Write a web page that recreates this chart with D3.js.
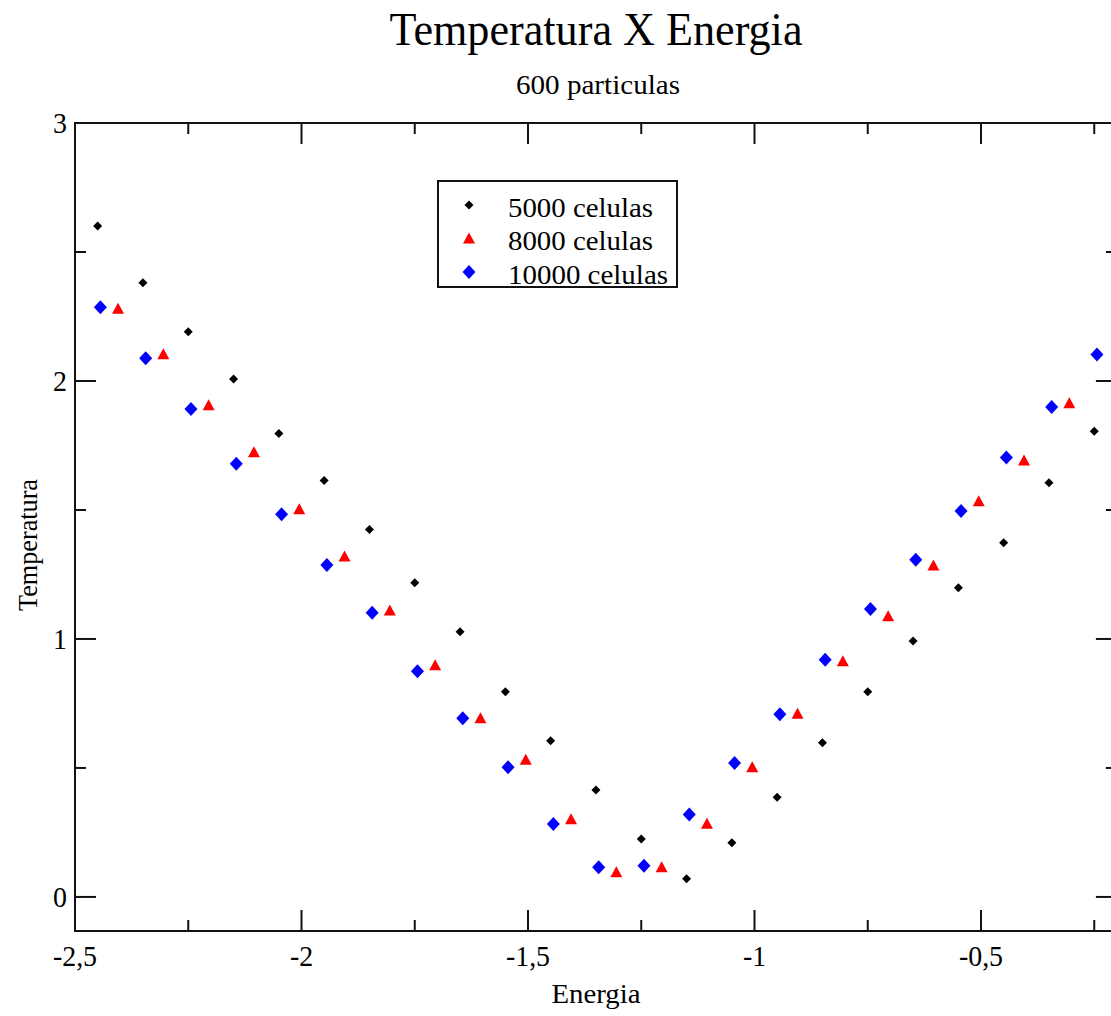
<!DOCTYPE html>
<meta charset="utf-8">
<script src="https://d3js.org/d3.v7.min.js"></script>
<style>
  body { margin: 0; background: #fff; }
  text { font-family: "Liberation Serif", "Times New Roman", serif; fill: #000; }
</style>
<div id="chart"></div>
<script>
// data
const energy5000 = [-2.45, -2.35, -2.25, -2.15, -2.05, -1.95, -1.85, -1.75, -1.65, -1.55, -1.45, -1.35,
  -1.25, -1.15, -1.05, -0.95, -0.85, -0.75, -0.65, -0.55, -0.45, -0.35, -0.25];
const temp5000 = [2.601, 2.381, 2.191, 2.008, 1.796, 1.614, 1.424, 1.218, 1.028, 0.795, 0.605, 0.415,
  0.225, 0.071, 0.210, 0.386, 0.598, 0.795, 0.992, 1.199, 1.373, 1.606, 1.805];

const energy8000 = [-2.405, -2.305, -2.205, -2.105, -2.005, -1.905, -1.805, -1.705, -1.605, -1.505, -1.405,
  -1.305, -1.205, -1.105, -1.005, -0.905, -0.805, -0.705, -0.605, -0.505, -0.405, -0.305];
const temp8000 = [2.282, 2.106, 1.908, 1.726, 1.505, 1.322, 1.112, 0.900, 0.695, 0.534, 0.303,
  0.098, 0.117, 0.286, 0.505, 0.712, 0.916, 1.090, 1.287, 1.536, 1.694, 1.916];

const energy10000 = [-2.444, -2.344, -2.244, -2.144, -2.044, -1.944, -1.844, -1.744, -1.644, -1.544, -1.444, -1.344,
  -1.244, -1.144, -1.044, -0.944, -0.844, -0.744, -0.644, -0.544, -0.444, -0.344, -0.244];
const temp10000 = [2.286, 2.088, 1.891, 1.679, 1.483, 1.287, 1.102, 0.875, 0.693, 0.503, 0.283, 0.115,
  0.121, 0.320, 0.519, 0.708, 0.919, 1.116, 1.307, 1.496, 1.703, 1.899, 2.103];

const seriesNames = ["5000 celulas", "8000 celulas", "10000 celulas"];
const xMajorTicks = [-2.5, -2, -1.5, -1, -0.5];
const xTickLabels = ["-2,5", "-2", "-1,5", "-1", "-0,5"];
const yMajorTicks = [0, 1, 2, 3];
const yTickLabels = ["0", "1", "2", "3"];

const W = 1111, H = 1016;
const x = d3.scaleLinear().domain([-2.5, -0.2]).range([75, 75 + 2.3 * 453]);
const y = d3.scaleLinear().domain([-0.132, 3]).range([931, 123]);

const svg = d3.select("#chart").append("svg")
  .attr("width", W).attr("height", H);

// squeeze text a little, the original font is narrower than Times
function squeeze(sel, k) {
  sel.each(function() {
    const w = this.getComputedTextLength();
    d3.select(this).attr("textLength", w * k).attr("lengthAdjust", "spacingAndGlyphs");
  });
}

// frame
const x0 = x.range()[0], x1 = x.range()[1], y0 = y.range()[0], y1 = y.range()[1];
svg.append("rect")
  .attr("x", x0).attr("y", y1).attr("width", x1 - x0).attr("height", y0 - y1)
  .attr("fill", "none").attr("stroke", "#111").attr("stroke-width", 2);

// ticks (inward, on all four sides)
const xMinor = d3.range(-2.25, -0.2, 0.5);
const yMinor = [0.5, 1.5, 2.5];
const ticks = svg.append("g").attr("stroke", "#111").attr("stroke-width", 2);
xMajorTicks.forEach(v => {
  ticks.append("line").attr("x1", x(v)).attr("x2", x(v)).attr("y1", y0).attr("y2", y0 - 21);
  ticks.append("line").attr("x1", x(v)).attr("x2", x(v)).attr("y1", y1).attr("y2", y1 + 21);
});
xMinor.forEach(v => {
  ticks.append("line").attr("x1", x(v)).attr("x2", x(v)).attr("y1", y0).attr("y2", y0 - 11);
  ticks.append("line").attr("x1", x(v)).attr("x2", x(v)).attr("y1", y1).attr("y2", y1 + 11);
});
yMajorTicks.forEach(v => {
  ticks.append("line").attr("y1", y(v)).attr("y2", y(v)).attr("x1", x0).attr("x2", x0 + 21);
  ticks.append("line").attr("y1", y(v)).attr("y2", y(v)).attr("x1", x1).attr("x2", x1 - 21);
});
yMinor.forEach(v => {
  ticks.append("line").attr("y1", y(v)).attr("y2", y(v)).attr("x1", x0).attr("x2", x0 + 11);
  ticks.append("line").attr("y1", y(v)).attr("y2", y(v)).attr("x1", x1).attr("x2", x1 - 11);
});

// tick labels
svg.append("g").selectAll("text").data(xMajorTicks).join("text")
  .attr("x", d => x(d)).attr("y", 966)
  .attr("text-anchor", "middle").attr("font-size", 30)
  .text((d, i) => xTickLabels[i])
  .call(squeeze, 0.93);
svg.append("g").selectAll("text").data(yMajorTicks).join("text")
  .attr("x", 67).attr("y", d => y(d) + 10)
  .attr("text-anchor", "end").attr("font-size", 30)
  .text((d, i) => yTickLabels[i])
  .call(squeeze, 0.93);

// titles
svg.append("text").attr("x", 596).attr("y", 45).attr("text-anchor", "middle")
  .attr("font-size", 47).text("Temperatura X Energia")
  .attr("textLength", 413).attr("lengthAdjust", "spacingAndGlyphs");
svg.append("text").attr("x", 598).attr("y", 94).attr("text-anchor", "middle")
  .attr("font-size", 28).text("600 particulas")
  .attr("textLength", 164).attr("lengthAdjust", "spacingAndGlyphs");
svg.append("text").attr("x", 596).attr("y", 1003).attr("text-anchor", "middle")
  .attr("font-size", 28).text("Energia")
  .attr("textLength", 89).attr("lengthAdjust", "spacingAndGlyphs");
svg.append("text").attr("transform", "translate(37,545) rotate(-90)").attr("text-anchor", "middle")
  .attr("font-size", 27).text("Temperatura")
  .attr("textLength", 132).attr("lengthAdjust", "spacingAndGlyphs");

// markers
const diamond = (rx, ry) => `M0,${-ry}L${rx},0L0,${ry}L${-rx},0Z`;
const triangle = (w, h) => `M0,${-h / 2}L${w / 2},${h / 2}L${-w / 2},${h / 2}Z`;
const styles = [
  {path: diamond(4.5, 4.5), color: "#000"},
  {path: triangle(12, 11), color: "#ff0000"},
  {path: diamond(6.5, 7), color: "#0000ff"}
];
const series = [
  energy5000.map((e, i) => ({e, t: temp5000[i]})),
  energy8000.map((e, i) => ({e, t: temp8000[i]})),
  energy10000.map((e, i) => ({e, t: temp10000[i]}))
];

const plot = svg.append("g");
series.forEach((s, k) => {
  plot.append("g").selectAll("path").data(s).join("path")
    .attr("transform", d => `translate(${x(d.e)},${y(d.t)})`)
    .attr("d", styles[k].path)
    .attr("fill", styles[k].color);
});

// legend
const legend = svg.append("g");
legend.append("rect").attr("x", 438).attr("y", 181).attr("width", 239).attr("height", 106)
  .attr("fill", "#fff").attr("stroke", "#111").attr("stroke-width", 2);
const legendY = [208, 241, 275];
const legendW = [145, 145, 160];
seriesNames.forEach((name, k) => {
  legend.append("path").attr("transform", `translate(469,${legendY[k] - 3})`)
    .attr("d", styles[k].path).attr("fill", styles[k].color);
  legend.append("text").attr("x", 508).attr("y", legendY[k] + 9)
    .attr("font-size", 27).text(name)
    .attr("textLength", legendW[k]).attr("lengthAdjust", "spacingAndGlyphs");
});
</script>
